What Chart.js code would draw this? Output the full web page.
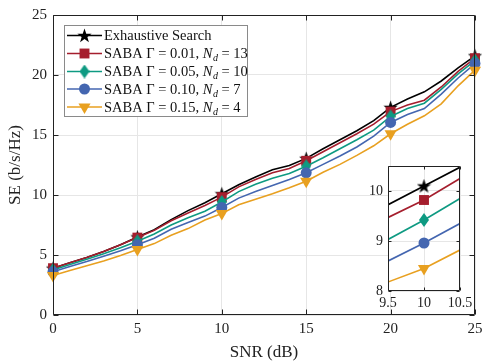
<!DOCTYPE html>
<html><head><meta charset="utf-8">
<script src="https://cdn.jsdelivr.net/npm/chart.js@4"></script>
<style>
html,body{margin:0;padding:0;background:#fff;}
#wrap{position:relative;width:482px;height:364px;overflow:hidden;}
#main{position:absolute;left:0;top:0;}
#inset{position:absolute;left:350px;top:155px;}
</style>
</head><body>
<div id="wrap">
<canvas id="main" width="482" height="364"></canvas>
<canvas id="inset" width="132" height="165"></canvas>
</div>
<script>
// ---------------- data ----------------
const snr = [0,1,2,3,4,5,6,7,8,9,10,11,12,13,14,15,16,17,18,19,20,21,22,23,24,25];
const exhaustive = [3.9,4.35,4.8,5.3,5.85,6.5,7.1,7.95,8.7,9.35,10.1,10.85,11.5,12.1,12.45,13.05,13.85,14.6,15.35,16.2,17.3,18.0,18.6,19.5,20.6,21.6];
const saba001 = [3.9,4.35,4.8,5.3,5.85,6.45,7.05,7.85,8.5,9.12,9.82,10.68,11.3,11.85,12.2,12.85,13.6,14.35,15.1,15.9,16.95,17.5,17.9,19.0,20.3,21.4];
const saba005 = [3.75,4.2,4.65,5.1,5.6,6.15,6.75,7.5,8.1,8.64,9.42,10.28,10.9,11.4,11.8,12.4,13.1,13.85,14.6,15.4,16.55,17.2,17.65,18.8,20.1,21.2];
const saba010 = [3.6,4.05,4.45,4.9,5.35,5.85,6.4,7.15,7.7,8.24,8.96,9.74,10.3,10.8,11.3,11.85,12.55,13.25,14.0,14.9,16.05,16.7,17.2,18.4,19.75,20.95];
const saba015 = [3.3,3.7,4.1,4.5,4.95,5.45,5.95,6.65,7.2,7.91,8.45,9.19,9.65,10.1,10.6,11.15,11.9,12.55,13.3,14.1,15.1,15.9,16.6,17.6,19.1,20.4];
const gammas = ['0.01','0.05','0.10','0.15'];
const ndValues = ['13','10','7','4'];
const mainXTicks = [0,5,10,15,20,25];
const mainYTicks = [0,5,10,15,20,25];
const insetXTicks = [9.5,10,10.5];
const insetYTicks = [8,9,10];

// ---------------- styles ----------------
const FONT = "'Liberation Serif', 'DejaVu Serif', serif";
const colors = ['#000000','#A51E2D','#0E9A82','#4466B0','#E8A020'];

function starCanvas(d, color){
  const c=document.createElement('canvas'); c.width=d; c.height=d;
  const g=c.getContext('2d'); const R=d/2, r=R*0.4, cx=d/2, cy=d/2+R*0.08;
  g.beginPath();
  for(let i=0;i<10;i++){const a=-Math.PI/2+i*Math.PI/5; const rr=i%2?r:R; g.lineTo(cx+rr*Math.cos(a), cy+rr*Math.sin(a));}
  g.closePath(); g.fillStyle=color; g.fill(); return c;
}
function diamondCanvas(w,h,color){
  const c=document.createElement('canvas'); c.width=w; c.height=h;
  const g=c.getContext('2d');
  g.beginPath(); g.moveTo(w/2,0); g.lineTo(w,h/2); g.lineTo(w/2,h); g.lineTo(0,h/2); g.closePath();
  g.fillStyle=color; g.fill(); return c;
}
const starImg = starCanvas(15, colors[0]);
const diamondImg = diamondCanvas(10, 14, colors[2]);
const pStyles = [starImg,'rect',diamondImg,'circle','triangle'];
const pRadius = [7,7,7,5.5,7];
const pRot = [0,0,0,0,180];

const seriesValues = [exhaustive, saba001, saba005, saba010, saba015];
const labelSegs = [[{t:'Exhaustive Search'}]].concat(gammas.map((g,i)=>[
  {t:'SABA \u0393 = '+g+', '},{t:'N',it:true},{t:'d',it:true,sub:true},{t:' = '+ndValues[i]}
]));

function makeDatasets(clip){
  return seriesValues.map((vals,k)=>({
    data: snr.map((s,i)=>({x:s,y:vals[i]})),
    borderColor: colors[k], backgroundColor: colors[k],
    borderWidth: 1.6, tension:0, clip: clip,
    pointStyle: pStyles[k], rotation: pRot[k],
    pointRadius: ctx => (ctx.dataIndex % 5 === 0 ? pRadius[k] : 0),
    pointHoverRadius: 0,
    pointBorderWidth: 0,
    pointBackgroundColor: colors[k],
    order: 5-k
  }));
}

const whiteBg = {id:'whiteBg', beforeDraw(chart){const c=chart.ctx; c.save(); c.fillStyle='#fff'; const a=chart.chartArea;
  if(chart.canvas.id==='main'){c.fillRect(0,0,chart.width,chart.height);} else {c.fillRect(a.left,a.top,a.right-a.left,a.bottom-a.top);} c.restore();}};

const frameTicks = {id:'frameTicks', afterDraw(chart,args,opts){
  const {ctx, chartArea:a, scales:{x,y}} = chart; const L=opts.len||5;
  ctx.save(); ctx.strokeStyle='#222'; ctx.lineWidth=1;
  const l=Math.round(a.left)+0.5, r=Math.round(a.right)-0.5, t=Math.round(a.top)+0.5, b=Math.round(a.bottom)-0.5;
  ctx.beginPath(); ctx.rect(l,t,r-l,b-t);
  x.ticks.forEach(tk=>{const px=Math.round(x.getPixelForValue(tk.value))+0.5; ctx.moveTo(px,b); ctx.lineTo(px,b-L); ctx.moveTo(px,t); ctx.lineTo(px,t+L);});
  y.ticks.forEach(tk=>{const py=Math.round(y.getPixelForValue(tk.value))+0.5; ctx.moveTo(l,py); ctx.lineTo(l+L,py); ctx.moveTo(r,py); ctx.lineTo(r-L,py);});
  ctx.stroke(); ctx.restore();
}};

const legendPlugin = {id:'legendBox', afterDatasetsDraw(chart){
  const ctx=chart.ctx; ctx.save();
  const bx=64.5, by=25.5, bw=183, bh=91;
  ctx.fillStyle='#fff'; ctx.fillRect(bx,by,bw,bh);
  ctx.strokeStyle='#8a8a8a'; ctx.lineWidth=1; ctx.strokeRect(bx,by,bw,bh);
  const rows=[35.5,53.5,71.5,89,107];
  labelSegs.forEach((segs,k)=>{
    const yy=rows[k];
    ctx.strokeStyle=colors[k]; ctx.lineWidth=1.6; ctx.beginPath(); ctx.moveTo(67,yy); ctx.lineTo(102,yy); ctx.stroke();
    const st=pStyles[k];
    if(typeof st==='object'){ctx.drawImage(st, 84.5-st.width/2, yy-st.height/2);}
    else {ctx.fillStyle=colors[k]; Chart.helpers.drawPoint(ctx,{pointStyle:st,rotation:pRot[k],radius:pRadius[k],borderWidth:0},84.5,yy);}
    let xx=104; ctx.fillStyle='#111'; ctx.textBaseline='middle';
    segs.forEach(s=>{
      const size = s.sub?10:14.5;
      ctx.font=(s.it?'italic ':'')+size+'px '+FONT;
      ctx.fillText(s.t, xx, yy+(s.sub?4:0)+1);
      xx+=ctx.measureText(s.t).width+(s.it&&!s.sub?0.5:0);
    });
  });
  ctx.restore();
}};

function axisCommon(ticksArr, size, pad){
  return {
    afterBuildTicks: s=>{s.ticks = ticksArr.map(v=>({value:v}));},
    grid:{color:'#e6e6e6', drawTicks:false, lineWidth:1},
    border:{display:false},
    ticks:{padding:pad, color:'#222', font:{family:FONT,size:size}, callback:v=>String(v)}
  };
}
function fixPad(s){ s.paddingLeft=0; s.paddingRight=0; s.paddingTop=0; s.paddingBottom=0; }

new Chart(document.getElementById('main'), {
  type:'line',
  data:{datasets:makeDatasets(false)},
  options:{
    responsive:false, animation:false, devicePixelRatio:1,
    layout:{padding:{left:0,right:7,top:15,bottom:0}},
    plugins:{legend:{display:false}, tooltip:{enabled:false}, frameTicks:{len:5}},
    events:[],
    scales:{
      x:Object.assign(axisCommon(mainXTicks,15,5),{type:'linear',min:0,max:25,
        afterFit:s=>{s.height=49; fixPad(s);},
        title:{display:true,text:'SNR (dB)',color:'#222',font:{family:FONT,size:17},padding:{top:0,bottom:1}}}),
      y:Object.assign(axisCommon(mainYTicks,15,6),{type:'linear',min:0,max:25,
        afterFit:s=>{s.width=53; fixPad(s);},
        title:{display:true,text:'SE (b/s/Hz)',color:'#222',font:{family:FONT,size:17},padding:{top:5,bottom:0}}})
    }
  },
  plugins:[whiteBg, legendPlugin, frameTicks]
});

new Chart(document.getElementById('inset'), {
  type:'line',
  data:{datasets:makeDatasets(0)},
  options:{
    responsive:false, animation:false, devicePixelRatio:1,
    layout:{padding:{left:0,right:22,top:11,bottom:0}},
    plugins:{legend:{display:false}, tooltip:{enabled:false}, frameTicks:{len:3}},
    events:[],
    scales:{
      x:Object.assign(axisCommon(insetXTicks,14,4),{type:'linear',min:9.5,max:10.5,afterFit:s=>{s.height=29; fixPad(s);}}),
      y:Object.assign(axisCommon(insetYTicks,14,5),{type:'linear',min:8,max:10.5,afterFit:s=>{s.width=38; fixPad(s);}})
    }
  },
  plugins:[whiteBg, frameTicks]
});
</script>
</body></html>
